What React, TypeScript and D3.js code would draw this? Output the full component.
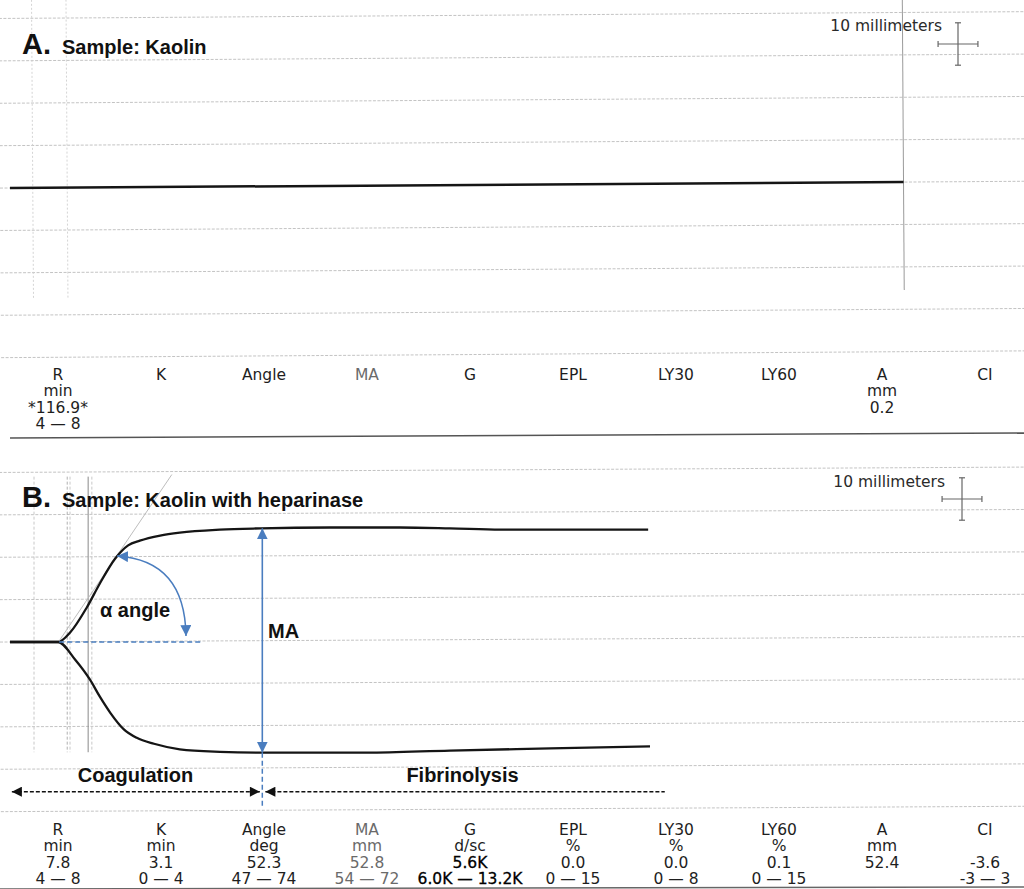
import React from "react";
import * as d3 from "d3";

// ---------- data ----------
const params = ["R", "K", "Angle", "MA", "G", "EPL", "LY30", "LY60", "A", "CI"];
const unitsA = ["min", "", "", "", "", "", "", "", "mm", ""];
const valuesA = ["*116.9*", "", "", "", "", "", "", "", "0.2", ""];
const rangesA = ["4 — 8", "", "", "", "", "", "", "", "", ""];

const unitsB = ["min", "min", "deg", "mm", "d/sc", "%", "%", "%", "mm", ""];
const valuesB = ["7.8", "3.1", "52.3", "52.8", "5.6K", "0.0", "0.0", "0.1", "52.4", "-3.6"];
const rangesB = ["4 — 8", "0 — 4", "47 — 74", "54 — 72", "6.0K — 13.2K", "0 — 15", "0 — 8", "0 — 15", "", "-3 — 3"];

// trace A (time in min, amplitude in mm)
const traceA = [
  { t: 0, a: 0 },
  { t: 145.2, a: 0 },
];

// trace B upper branch (time min, amplitude mm above baseline)
const upperB = [
  { t: 0, a: 0 }, { t: 7.8, a: 0 }, { t: 9.8, a: 2.3 }, { t: 12.5, a: 8.2 },
  { t: 14.6, a: 13.8 }, { t: 17.1, a: 19.7 }, { t: 19.2, a: 22.8 }, { t: 21.1, a: 23.9 },
  { t: 24.4, a: 25.1 }, { t: 27.6, a: 25.8 }, { t: 34.1, a: 26.5 }, { t: 40.7, a: 26.8 },
  { t: 52.0, a: 27.0 }, { t: 63.4, a: 27.0 }, { t: 71.5, a: 26.8 }, { t: 79.7, a: 26.5 },
  { t: 95.9, a: 26.5 }, { t: 103.7, a: 26.5 },
];
// lower branch (mm below baseline)
const lowerB = [
  { t: 0, a: 0 }, { t: 7.8, a: 0 }, { t: 10.6, a: 4.2 }, { t: 13.0, a: 8.9 },
  { t: 14.6, a: 12.9 }, { t: 16.3, a: 16.7 }, { t: 18.5, a: 20.6 }, { t: 20.6, a: 22.6 },
  { t: 23.4, a: 24.0 }, { t: 27.6, a: 25.3 }, { t: 34.1, a: 25.9 }, { t: 41.0, a: 26.1 },
  { t: 58.0, a: 26.1 }, { t: 71.5, a: 25.6 }, { t: 87.8, a: 25.1 }, { t: 104, a: 24.6 },
];

const gridMM = [-40, -30, -20, -10, 0, 10, 20, 30, 40];
const markersA = [3.7, 9.3];
const markersB = [
  { t: 3.9, c: "#c8c8c8", dash: "3 2" },
  { t: 9.3, c: "#b0b0b0", dash: "3 2" },
  { t: 9.75, c: "#c8c8c8", dash: "3 2" },
  { t: 12.7, c: "#8a8a8a", dash: "" },
  { t: 13.3, c: "#c8c8c8", dash: "3 2" },
];
const tangentB = [{ t: 8.1, a: 0.5 }, { t: 26.3, a: 39.5 }];
const maTime = 41.0;

// ---------- scales ----------
const xT = d3.scaleLinear().domain([0, 104]).range([10, 650]);
const pxPerMM = 4.24;
const yA = d3.scaleLinear().domain([0, 10]).range([188, 188 - 10 * pxPerMM]);
const yB = d3.scaleLinear().domain([0, 10]).range([642, 642 - 10 * pxPerMM]);
const xP = d3.scalePoint().domain(params).range([58, 985]);

const BLUE = "#4a7dbf";

const lineA = d3.line<any>().x((d) => xT(d.t)).y((d) => yA(d.a));
const lineB = d3.line<any>().x((d) => xT(d.t)).y((d) => yB(d.a));
const lineUp = d3.line<any>().x((d) => xT(d.t)).y((d) => yB(d.a)).curve(d3.curveMonotoneX);
const lineDn = d3.line<any>().x((d) => xT(d.t)).y((d) => yB(-d.a)).curve(d3.curveMonotoneX);

function ParamBlock({ y0, units, values, ranges, boldCol }: any) {
  const dy = 16.3;
  return (
    <g fontFamily="'DejaVu Sans', Verdana, sans-serif" fontSize={15.5} textAnchor="middle">
      {params.map((p, i) => {
        const col = p === "MA" ? "#6a6a6a" : "#1e1e1e";
        const lines = [p, units[i], values[i], ranges[i]];
        return (
          <g key={p} fill={col}>
            {lines.map((s, j) => {
              const heavy = boldCol === p && j >= 2;
              return s ? (
                <text key={j} x={xP(p)} y={y0 + j * dy}
                  stroke={heavy ? "#000" : "none"} strokeWidth={heavy ? 0.3 : 0}
                  fill={heavy ? "#000" : col}>
                  {s}
                </text>
              ) : null;
            })}
          </g>
        );
      })}
    </g>
  );
}

function Crosshair({ cx, cy }: any) {
  const h = 5 * pxPerMM;
  const w = 4.7 * pxPerMM;
  return (
    <g stroke="#666" strokeWidth={1.2} fill="none">
      <line x1={cx} x2={cx} y1={cy - h} y2={cy + h} />
      <line x1={cx - 3} x2={cx + 3} y1={cy - h} y2={cy - h} />
      <line x1={cx - 3} x2={cx + 3} y1={cy + h} y2={cy + h} />
      <line x1={cx - w} x2={cx + w} y1={cy} y2={cy} />
      <line x1={cx - w} x2={cx - w} y1={cy - 3} y2={cy + 3} />
      <line x1={cx + w} x2={cx + w} y1={cy - 3} y2={cy + 3} />
    </g>
  );
}

export default function App() {
  const arcStart = { x: xT(17.4), y: yB(20.3) };
  const arcCtrl = { x: xT(28.45), y: yB(19.3) };
  const arcEnd = { x: xT(28.6), y: yB(1.4) };
  const arrowY = yB(-35.3);
  return (
    <svg
      width={1024}
      height={889}
      viewBox="0 0 1024 889"
      style={{ position: "absolute", left: 0, top: 0, background: "#fff" }}
    >
      <defs>
        <marker id="blueArrow" viewBox="0 0 10 10" refX={10} refY={5} markerWidth={11} markerHeight={11}
          markerUnits="userSpaceOnUse" orient="auto-start-reverse">
          <path d="M0,0 L10,5 L0,10 z" fill={BLUE} stroke="none" />
        </marker>
        <marker id="blackArrow" viewBox="0 0 10 10" refX={10} refY={5} markerWidth={11} markerHeight={10}
          markerUnits="userSpaceOnUse" orient="auto-start-reverse">
          <path d="M0,0 L10,5 L0,10 z" fill="#111" stroke="none" />
        </marker>
      </defs>
      <rect x={0} y={0} width={1024} height={889} fill="#fff" />

      {/* ---------- Panel A ---------- */}
      <g transform={`rotate(-0.38, 10, 188)`}>
        {gridMM.map((m) => (
          <line key={m} x1={0} x2={1030} y1={yA(m)} y2={yA(m)} stroke="#bdbdbd" strokeWidth={0.9} strokeDasharray="3 1.5" />
        ))}
        {markersA.map((t) => (
          <line key={t} x1={xT(t)} x2={xT(t)} y1={0} y2={300} stroke="#cfcfcf" strokeWidth={0.9} strokeDasharray="2 2" />
        ))}
        <line x1={xT(145.2)} x2={xT(145.2)} y1={-5} y2={296} stroke="#9a9a9a" strokeWidth={1} />
        <path d={lineA(traceA) || ""} fill="none" stroke="#151515" strokeWidth={2.5} />
      </g>
      <text x={22} y={54} fontFamily="'Liberation Sans', Arial, sans-serif" fontWeight={700} fontSize={29} fill="#111">A.</text>
      <text x={62} y={54} fontFamily="'Liberation Sans', Arial, sans-serif" fontWeight={700} fontSize={20} fill="#111">Sample: Kaolin</text>
      <text x={942} y={31} textAnchor="end" fontFamily="'DejaVu Sans', Verdana, sans-serif" fontSize={15.5} fill="#2a2a2a">10 millimeters</text>
      <Crosshair cx={958} cy={44} />
      <ParamBlock y0={380} units={unitsA} values={valuesA} ranges={rangesA} boldCol="" />
      <line x1={10} x2={1024} y1={438} y2={433} stroke="#555" strokeWidth={1.6} />

      {/* ---------- Panel B ---------- */}
      <g transform={`rotate(-0.3, 10, 642)`}>
        {gridMM.map((m) => (
          <line key={m} x1={0} x2={1030} y1={yB(m)} y2={yB(m)} stroke="#bdbdbd" strokeWidth={0.9} strokeDasharray="3 1.5" />
        ))}
      </g>
      {markersB.map((m) => (
        <line key={m.t} x1={xT(m.t)} x2={xT(m.t)} y1={yB(39)} y2={yB(-26)} stroke={m.c} strokeWidth={1}
          strokeDasharray={m.dash || undefined} />
      ))}
      <path d={lineB(tangentB) || ""} fill="none" stroke="#b5b5b5" strokeWidth={0.9} />
      <path d={lineUp(upperB) || ""} fill="none" stroke="#151515" strokeWidth={2.3} />
      <path d={lineDn(lowerB) || ""} fill="none" stroke="#151515" strokeWidth={2.3} />

      {/* blue annotations */}
      <line x1={xT(8)} x2={xT(31.4)} y1={yB(0)} y2={yB(0)} stroke={BLUE} strokeWidth={1.5} strokeDasharray="5 3" />
      <line x1={xT(maTime)} x2={xT(maTime)} y1={yB(26.8)} y2={yB(-26.1)} stroke={BLUE} strokeWidth={1.6}
        markerStart="url(#blueArrow)" markerEnd="url(#blueArrow)" />
      <line x1={xT(maTime)} x2={xT(maTime)} y1={yB(-26.1)} y2={yB(-39.3)} stroke={BLUE} strokeWidth={1.5} strokeDasharray="5 3" />
      <path d={`M${arcStart.x},${arcStart.y} Q${arcCtrl.x},${arcCtrl.y} ${arcEnd.x},${arcEnd.y}`} fill="none"
        stroke={BLUE} strokeWidth={1.5} markerStart="url(#blueArrow)" markerEnd="url(#blueArrow)" />
      <text x={100} y={617} fontFamily="'Liberation Sans', Arial, sans-serif" fontWeight={700} fontSize={20} fill="#111">α angle</text>
      <text x={268} y={638} fontFamily="'Liberation Sans', Arial, sans-serif" fontWeight={700} fontSize={20} fill="#111">MA</text>

      {/* phase arrows */}
      <line x1={xT(0.3)} x2={xT(40.6)} y1={arrowY} y2={arrowY} stroke="#111" strokeWidth={1.5} strokeDasharray="4 2"
        markerStart="url(#blackArrow)" markerEnd="url(#blackArrow)" />
      <line x1={xT(41.5)} x2={xT(106.4)} y1={arrowY} y2={arrowY} stroke="#111" strokeWidth={1.5} strokeDasharray="4 2"
        markerStart="url(#blackArrow)" />
      <text x={135.5} y={782} textAnchor="middle" fontFamily="'Liberation Sans', Arial, sans-serif" fontWeight={700} fontSize={20} fill="#111">Coagulation</text>
      <text x={462.5} y={782} textAnchor="middle" fontFamily="'Liberation Sans', Arial, sans-serif" fontWeight={700} fontSize={20} fill="#111">Fibrinolysis</text>

      <text x={22} y={507} fontFamily="'Liberation Sans', Arial, sans-serif" fontWeight={700} fontSize={29} fill="#111">B.</text>
      <text x={62} y={507} fontFamily="'Liberation Sans', Arial, sans-serif" fontWeight={700} fontSize={20} fill="#111">Sample: Kaolin with heparinase</text>
      <text x={945} y={487} textAnchor="end" fontFamily="'DejaVu Sans', Verdana, sans-serif" fontSize={15.5} fill="#2a2a2a">10 millimeters</text>
      <Crosshair cx={962} cy={499} />

      <ParamBlock y0={835} units={unitsB} values={valuesB} ranges={rangesB} boldCol="G" />
      <line x1={0} x2={1024} y1={889} y2={887} stroke="#666" strokeWidth={1.4} />
    </svg>
  );
}
